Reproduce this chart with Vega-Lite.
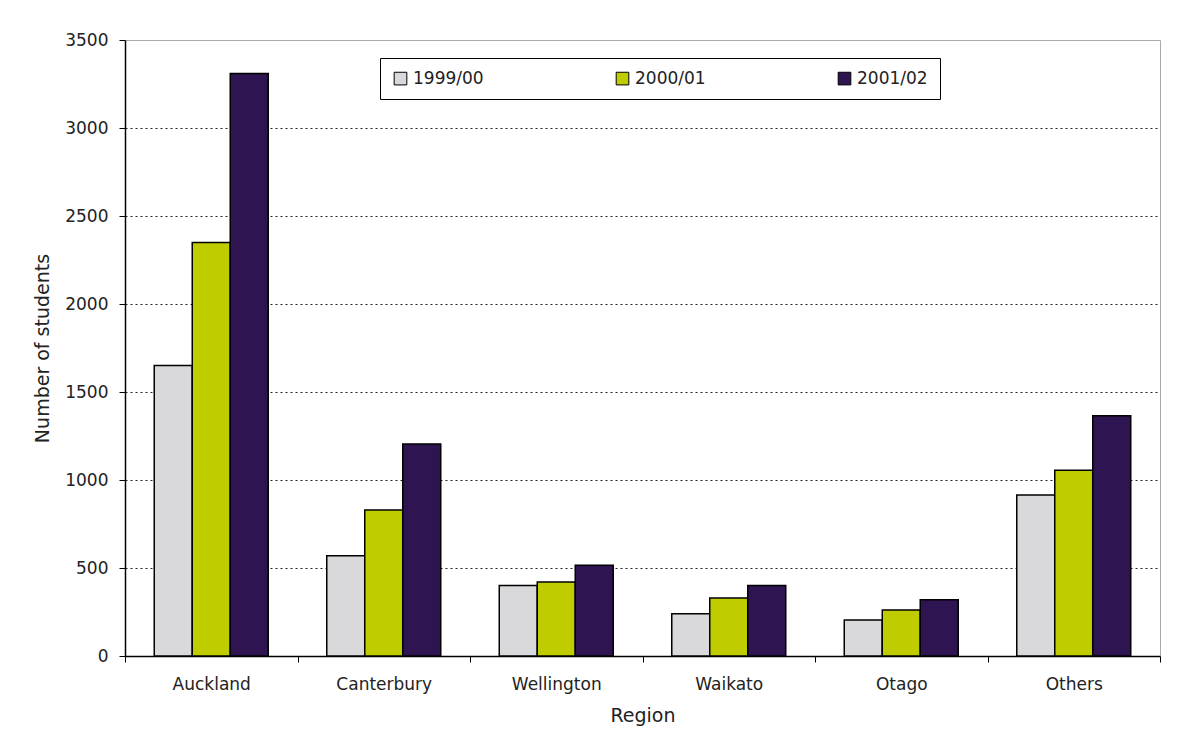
{
  "$schema": "https://vega.github.io/schema/vega-lite/v6.json",
  "width": 1035,
  "height": 616,
  "autosize": "none",
  "padding": {"left": 125, "top": 40, "right": 37, "bottom": 80},
  "background": "white",
  "data": {
    "values": [
      {"region": "Auckland", "year": "1999/00", "students": 1650},
      {"region": "Auckland", "year": "2000/01", "students": 2350},
      {"region": "Auckland", "year": "2001/02", "students": 3310},
      {"region": "Canterbury", "year": "1999/00", "students": 570},
      {"region": "Canterbury", "year": "2000/01", "students": 830},
      {"region": "Canterbury", "year": "2001/02", "students": 1205},
      {"region": "Wellington", "year": "1999/00", "students": 400},
      {"region": "Wellington", "year": "2000/01", "students": 420},
      {"region": "Wellington", "year": "2001/02", "students": 515},
      {"region": "Waikato", "year": "1999/00", "students": 240},
      {"region": "Waikato", "year": "2000/01", "students": 330},
      {"region": "Waikato", "year": "2001/02", "students": 400},
      {"region": "Otago", "year": "1999/00", "students": 205},
      {"region": "Otago", "year": "2000/01", "students": 262},
      {"region": "Otago", "year": "2001/02", "students": 320},
      {"region": "Others", "year": "1999/00", "students": 915},
      {"region": "Others", "year": "2000/01", "students": 1055},
      {"region": "Others", "year": "2001/02", "students": 1365}
    ]
  },
  "mark": {"type": "bar", "stroke": "black", "strokeWidth": 1.5},
  "encoding": {
    "x": {
      "field": "region",
      "type": "nominal",
      "sort": ["Auckland", "Canterbury", "Wellington", "Waikato", "Otago", "Others"],
      "scale": {"paddingInner": 0, "paddingOuter": 0},
      "axis": {
        "title": "Region",
        "labelAngle": 0,
        "tickBand": "extent",
        "domainColor": "black",
        "domainWidth": 1.5,
        "tickColor": "black",
        "tickSize": 6,
        "labelPadding": 14,
        "labelFont": "DejaVu Sans",
        "labelFontSize": 17,
        "labelColor": "#222",
        "titleFont": "DejaVu Sans",
        "titleFontSize": 19,
        "titleFontWeight": "normal",
        "titleColor": "#222",
        "titlePadding": 14
      }
    },
    "xOffset": {
      "field": "year",
      "type": "nominal",
      "sort": ["1999/00", "2000/01", "2001/02"],
      "scale": {"paddingInner": 0, "paddingOuter": 0.77}
    },
    "y": {
      "field": "students",
      "type": "quantitative",
      "scale": {"domain": [0, 3500], "nice": false},
      "axis": {
        "title": "Number of students",
        "values": [0, 500, 1000, 1500, 2000, 2500, 3000, 3500],
        "format": "d",
        "grid": true,
        "gridDash": [2, 3],
        "gridColor": {"condition": {"test": "datum.value == 3500", "value": "#aaaaaa"}, "value": "#222222"},
        "gridWidth": 1,
        "domainColor": "black",
        "domainWidth": 1.5,
        "tickColor": "black",
        "tickSize": 6,
        "labelPadding": 11,
        "labelFont": "DejaVu Sans",
        "labelFontSize": 17,
        "labelColor": "#222",
        "titleFont": "DejaVu Sans",
        "titleFontSize": 19,
        "titleFontWeight": "normal",
        "titleColor": "#222",
        "titlePadding": 12
      }
    },
    "color": {
      "field": "year",
      "type": "nominal",
      "scale": {"domain": ["1999/00", "2000/01", "2001/02"], "range": ["#D9D9DB", "#BFCC00", "#2E1450"]},
      "legend": {
        "title": null,
        "orient": "none",
        "legendX": 255,
        "legendY": 18,
        "direction": "horizontal",
        "strokeColor": "black",
        "fillColor": "white",
        "padding": 12,
        "symbolType": "square",
        "symbolSize": 160,
        "symbolStrokeColor": "black",
        "symbolStrokeWidth": 1,
        "labelFont": "DejaVu Sans",
        "labelFontSize": 17,
        "labelColor": "#222",
        "columnPadding": 130
      }
    }
  },
  "config": {"view": {"stroke": "#aaaaaa", "strokeWidth": 1}}
}
